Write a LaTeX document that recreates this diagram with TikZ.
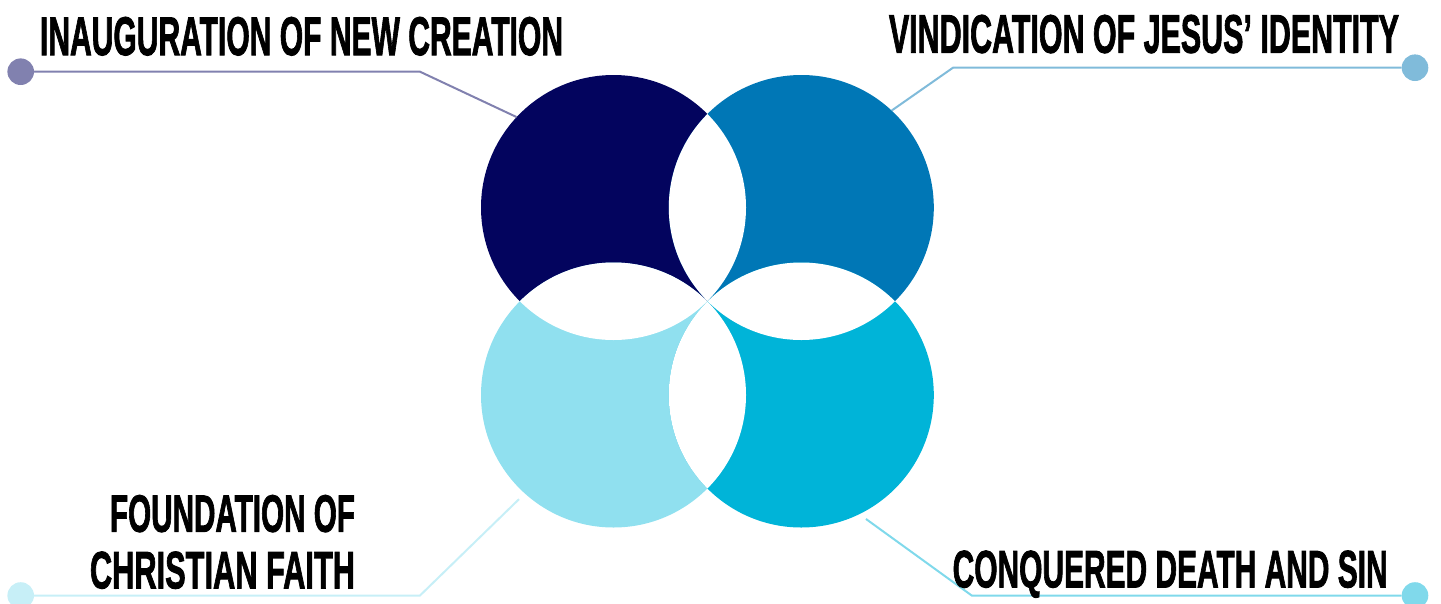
\documentclass[tikz,border=0pt]{standalone}
\usepackage{fontspec}
\usepackage{graphicx}
\setmainfont{Liberation Sans}[BoldFeatures={FakeBold=2}]
\definecolor{cA}{HTML}{03045E}
\definecolor{cB}{HTML}{0077B6}
\definecolor{cC}{HTML}{90E0EF}
\definecolor{cD}{HTML}{00B4D8}
\newcommand{\fitbox}[3]{\resizebox{#1}{#2}{\bfseries #3}}
\begin{document}
\begin{tikzpicture}[x=1pt,y=-1pt,
  blob/.style={circle,draw=none,minimum size=265pt,inner sep=0pt},
  dotnode/.style={circle,draw=none,minimum size=26.6pt,inner sep=0pt},
  lbl/.style={inner sep=0pt,outer sep=0pt,text=black},
  conn/.style={line width=2pt}]
\useasboundingbox (0,0) rectangle (1441,603);
% circles
\node[blob,fill=cA] (c1) at (613.5,207.5) {};
\node[blob,fill=cB] (c2) at (801.3,207.5) {};
\node[blob,fill=cC] (c3) at (613.5,395) {};
\node[blob,fill=cD] (c4) at (801.3,395) {};
% white overlaps
\begin{scope}\clip (c1.center) circle[radius=132.5pt]; \fill[white] (c2.center) circle[radius=132.5pt];\end{scope}
\begin{scope}\clip (c1.center) circle[radius=132.5pt]; \fill[white] (c3.center) circle[radius=132.5pt];\end{scope}
\begin{scope}\clip (c2.center) circle[radius=132.5pt]; \fill[white] (c4.center) circle[radius=132.5pt];\end{scope}
\begin{scope}\clip (c3.center) circle[radius=132.5pt]; \fill[white] (c4.center) circle[radius=132.5pt];\end{scope}
% dots
\node[dotnode,fill=cA!50!white] (d1) at (20.7,71.7) {};
\node[dotnode,fill=cB!50!white] (d2) at (1415,67.7) {};
\node[dotnode,fill=cC!50!white] (d3) at (20.7,595.5) {};
\node[dotnode,fill=cD!50!white] (d4) at (1415,595.5) {};
% bends
\coordinate (b1) at (420,71.7);
\coordinate (b2) at (953,67.7);
\coordinate (b3) at (420,595.5);
\coordinate (b4) at (971.7,595.5);
% connectors
\draw[conn,draw=cA!50!white] (d1) -- (b1) -- (c1.137.5);
\draw[conn,draw=cB!50!white] (d2) -- (b2) -- (c2.47.6);
\draw[conn,draw=cC!50!white,shorten >=8pt] (d3) -- (b3) -- (c3.228.5);
\draw[conn,draw=cD!50!white,shorten >=8pt] (d4) -- (b4) -- (c4.-64.5);
% labels
\node[lbl,anchor=base west] (t1) at (40,55) {\fitbox{523pt}{38pt}{INAUGURATION OF NEW CREATION}};
\node[lbl,anchor=base east] (t2) at (1399,52.7) {\fitbox{510pt}{37.8pt}{VINDICATION OF JESUS’ IDENTITY}};
\node[lbl,anchor=base east] (t3a) at (355,531.7) {\fitbox{245pt}{36.7pt}{FOUNDATION OF}};
\node[lbl,anchor=base east] (t3b) at (355,588.3) {\fitbox{265pt}{36.7pt}{CHRISTIAN FAITH}};
\node[lbl,anchor=base west] (t4) at (952.7,587.3) {\fitbox{435pt}{36.7pt}{CONQUERED DEATH AND SIN}};
\end{tikzpicture}
\end{document}
